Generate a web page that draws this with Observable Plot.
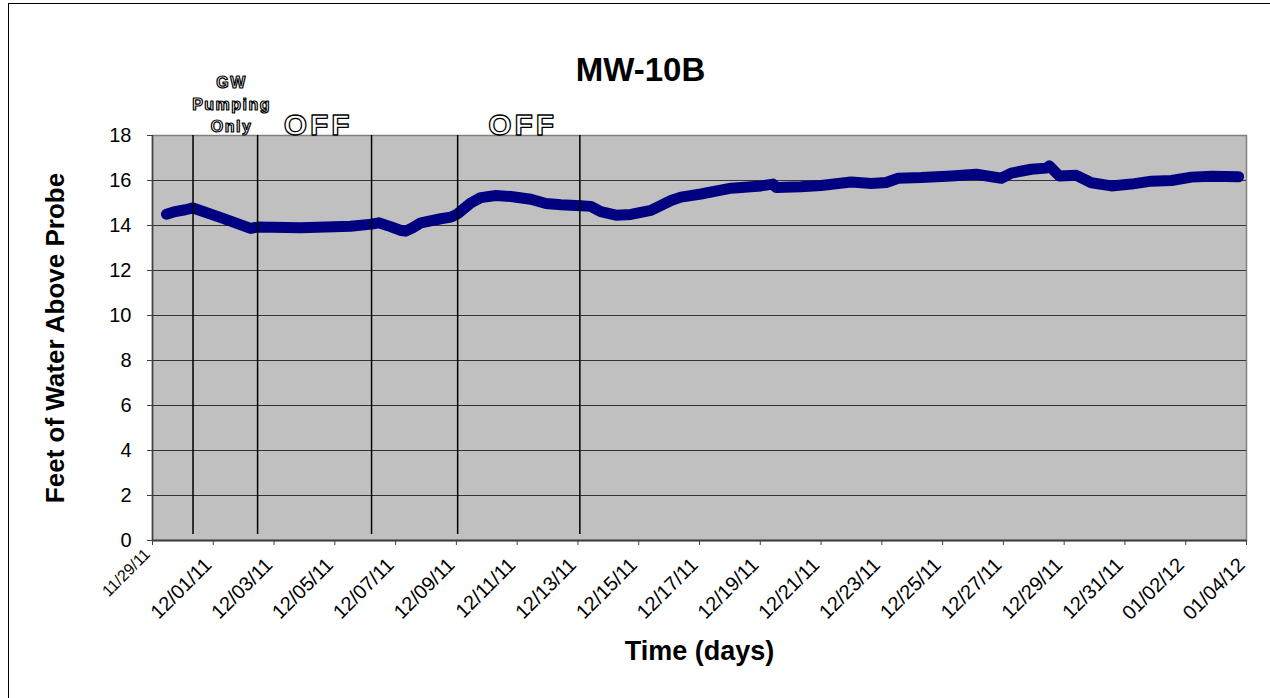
<!DOCTYPE html>
<html><head><meta charset="utf-8">
<script src="https://cdn.jsdelivr.net/npm/d3@7"></script>
<script src="https://cdn.jsdelivr.net/npm/@observablehq/plot@0.6"></script>
<style>
html,body{margin:0;padding:0;background:#fff;overflow:hidden;}
#wrap{position:relative;width:1270px;height:698px;overflow:hidden;}
#border{position:absolute;left:8px;top:3px;width:1300px;height:800px;border:1px solid #000;box-sizing:border-box;pointer-events:none;}
#wrap svg{position:absolute;left:0;top:0;}
</style></head><body><div id="wrap"><div id="border"></div></div>
<script>
const parse = d3.utcParse("%Y-%m-%d %H:%M");
const parseTick = d3.utcParse("%m/%d/%y");

const chartTitle = "MW-10B";
const yLabel = "Feet of Water Above Probe";
const xLabel = "Time (days)";

const times = [
  "2011-11-29 11:00","2011-11-29 18:00","2011-11-30 02:00","2011-11-30 08:00","2011-12-01 06:00",
  "2011-12-02 05:30","2011-12-02 11:00","2011-12-03 21:00","2011-12-05 12:30","2011-12-06 05:00",
  "2011-12-06 10:30","2011-12-06 20:00","2011-12-07 04:00","2011-12-07 08:00","2011-12-07 13:30",
  "2011-12-07 20:00","2011-12-08 11:40","2011-12-08 19:40","2011-12-09 01:00","2011-12-09 11:20",
  "2011-12-09 19:10","2011-12-10 07:10","2011-12-10 19:00","2011-12-11 10:50","2011-12-11 22:40",
  "2011-12-12 10:30","2011-12-13 02:20","2011-12-13 10:10","2011-12-13 18:00","2011-12-14 06:00",
  "2011-12-14 17:50","2011-12-15 09:40","2011-12-16 01:30","2011-12-16 09:20","2011-12-17 01:10",
  "2011-12-18 01:00","2011-12-19 00:40","2011-12-19 10:00","2011-12-19 12:30","2011-12-20 08:10",
  "2011-12-21 00:00","2011-12-21 23:45","2011-12-22 15:35","2011-12-23 03:25","2011-12-23 13:00",
  "2011-12-24 07:10","2011-12-25 06:50","2011-12-26 02:35","2011-12-26 22:20","2011-12-27 06:15",
  "2011-12-27 22:05","2011-12-28 09:50","2011-12-28 12:15","2011-12-28 20:10","2011-12-29 09:35",
  "2011-12-29 21:30","2011-12-30 13:15","2011-12-31 05:05","2011-12-31 20:55","2012-01-01 12:45",
  "2012-01-02 04:35","2012-01-02 20:25","2012-01-03 17:45"
];
const levels = [
  14.5,14.62,14.7,14.78,14.35,
  13.87,13.93,13.9,13.97,14.06,
  14.12,13.95,13.78,13.75,13.9,
  14.12,14.3,14.37,14.52,15.0,
  15.24,15.33,15.29,15.17,14.98,
  14.92,14.88,14.85,14.62,14.46,
  14.49,14.67,15.11,15.26,15.4,
  15.66,15.76,15.84,15.69,15.72,
  15.78,15.93,15.87,15.91,16.1,
  16.13,16.2,16.28,16.1,16.33,
  16.5,16.55,16.65,16.2,16.23,
  15.9,15.76,15.84,15.97,16.0,
  16.15,16.19,16.17
];
const markerTimes = ["2011-11-30 08:00","2011-12-02 11:00","2011-12-06 05:00","2011-12-09 01:00","2011-12-13 01:30"];
const annotationLabels = ["GW\nPumping\nOnly","OFF","OFF"];
const annotationTimes = ["2011-12-01 14:30","2011-12-04 10:50","2011-12-11 04:20"];
const yTicks = [0,2,4,6,8,10,12,14,16,18];
const xTickLabels = ["11/29/11","12/01/11","12/03/11","12/05/11","12/07/11","12/09/11","12/11/11",
  "12/13/11","12/15/11","12/17/11","12/19/11","12/21/11","12/23/11","12/25/11","12/27/11",
  "12/29/11","12/31/11","01/02/12","01/04/12"];

const fontFamily = '"Liberation Sans", Arial, Helvetica, sans-serif';
const xTicks = xTickLabels.map(parseTick);
const xStart = xTicks[0], xEnd = xTicks[xTicks.length - 1];
const fmt = d3.utcFormat("%m/%d/%y");
const data = times.map((t, i) => ({time: parse(t), level: levels[i]}));
const markers = markerTimes.map(parse);
const annotations = annotationLabels.map((label, i) => ({label, time: parse(annotationTimes[i])}));

const labelOpts = {tickFormat: fmt, tickRotate: -45, tickSize: 0, dx: -5, label: null};

const chart = Plot.plot({
  width: 1270, height: 698,
  marginLeft: 152, marginRight: 24, marginTop: 135, marginBottom: 158,
  style: {fontFamily, background: "transparent", overflow: "visible", color: "#000"},
  x: {type: "utc", domain: [xStart, xEnd]},
  y: {domain: [0, 18]},
  marks: [
    Plot.frame({fill: "#c0c0c0", stroke: "#808080", strokeWidth: 1.5}),
    Plot.gridY(yTicks.filter(t => t > 0 && t < 18), {stroke: "#333", strokeOpacity: 1, strokeWidth: 1}),
    Plot.ruleY([0], {stroke: "#404040", strokeWidth: 2}),
    Plot.ruleX([xStart], {stroke: "#404040", strokeWidth: 1.5}),
    Plot.axisY({ticks: yTicks, tickSize: 5, tickPadding: 16, fontSize: 20, label: null, stroke: "#404040"}),
    Plot.axisX({ticks: xTicks, tickSize: 5, tickFormat: () => "", label: null, stroke: "#404040"}),
    Plot.axisX({...labelOpts, ticks: xTicks.slice(1), tickPadding: 21, fontSize: 20}),
    Plot.axisX({...labelOpts, ticks: xTicks.slice(0, 1), tickPadding: 11, fontSize: 16}),
    Plot.line(data, {x: "time", y: "level", stroke: "#000080", strokeWidth: 11, strokeLinejoin: "round"}),
    Plot.ruleX(markers, {y1: 0.27, y2: 18, stroke: "#000", strokeWidth: 1.5}),
    Plot.text([chartTitle], {frameAnchor: "top", dx: -59, dy: -78, fontSize: 33, fontWeight: "bold"}),
    Plot.text([xLabel], {frameAnchor: "bottom", dy: 119, fontSize: 27, fontWeight: "bold"}),
    Plot.text([yLabel], {frameAnchor: "left", textAnchor: "middle", dx: -97, rotate: -90, fontSize: 26, fontWeight: "bold"}),
    Plot.text(annotations.slice(0, 1), {x: "time", text: "label", frameAnchor: "top", lineAnchor: "bottom", dy: -4, lineHeight: 1.35,
      fontSize: 16, fontWeight: "bold", fill: "#fff", stroke: "#000", strokeWidth: 1.2, paintOrder: "normal"}),
    Plot.text(annotations.slice(1), {x: "time", text: "label", frameAnchor: "top", lineAnchor: "bottom", dy: -1,
      fontSize: 30, fontWeight: "bold", fill: "#fff", stroke: "#000", strokeWidth: 1.3, paintOrder: "normal"})
  ]
});
d3.select(chart).selectAll("text").each(function() {
  const t = this.textContent;
  if (t === "OFF") d3.select(this).style("letter-spacing", "3px");
  if (t.replace(/\s/g, "") === "GWPumpingOnly") d3.select(this).style("letter-spacing", "1.5px");
});
document.getElementById("wrap").appendChild(chart);
</script></body></html>
